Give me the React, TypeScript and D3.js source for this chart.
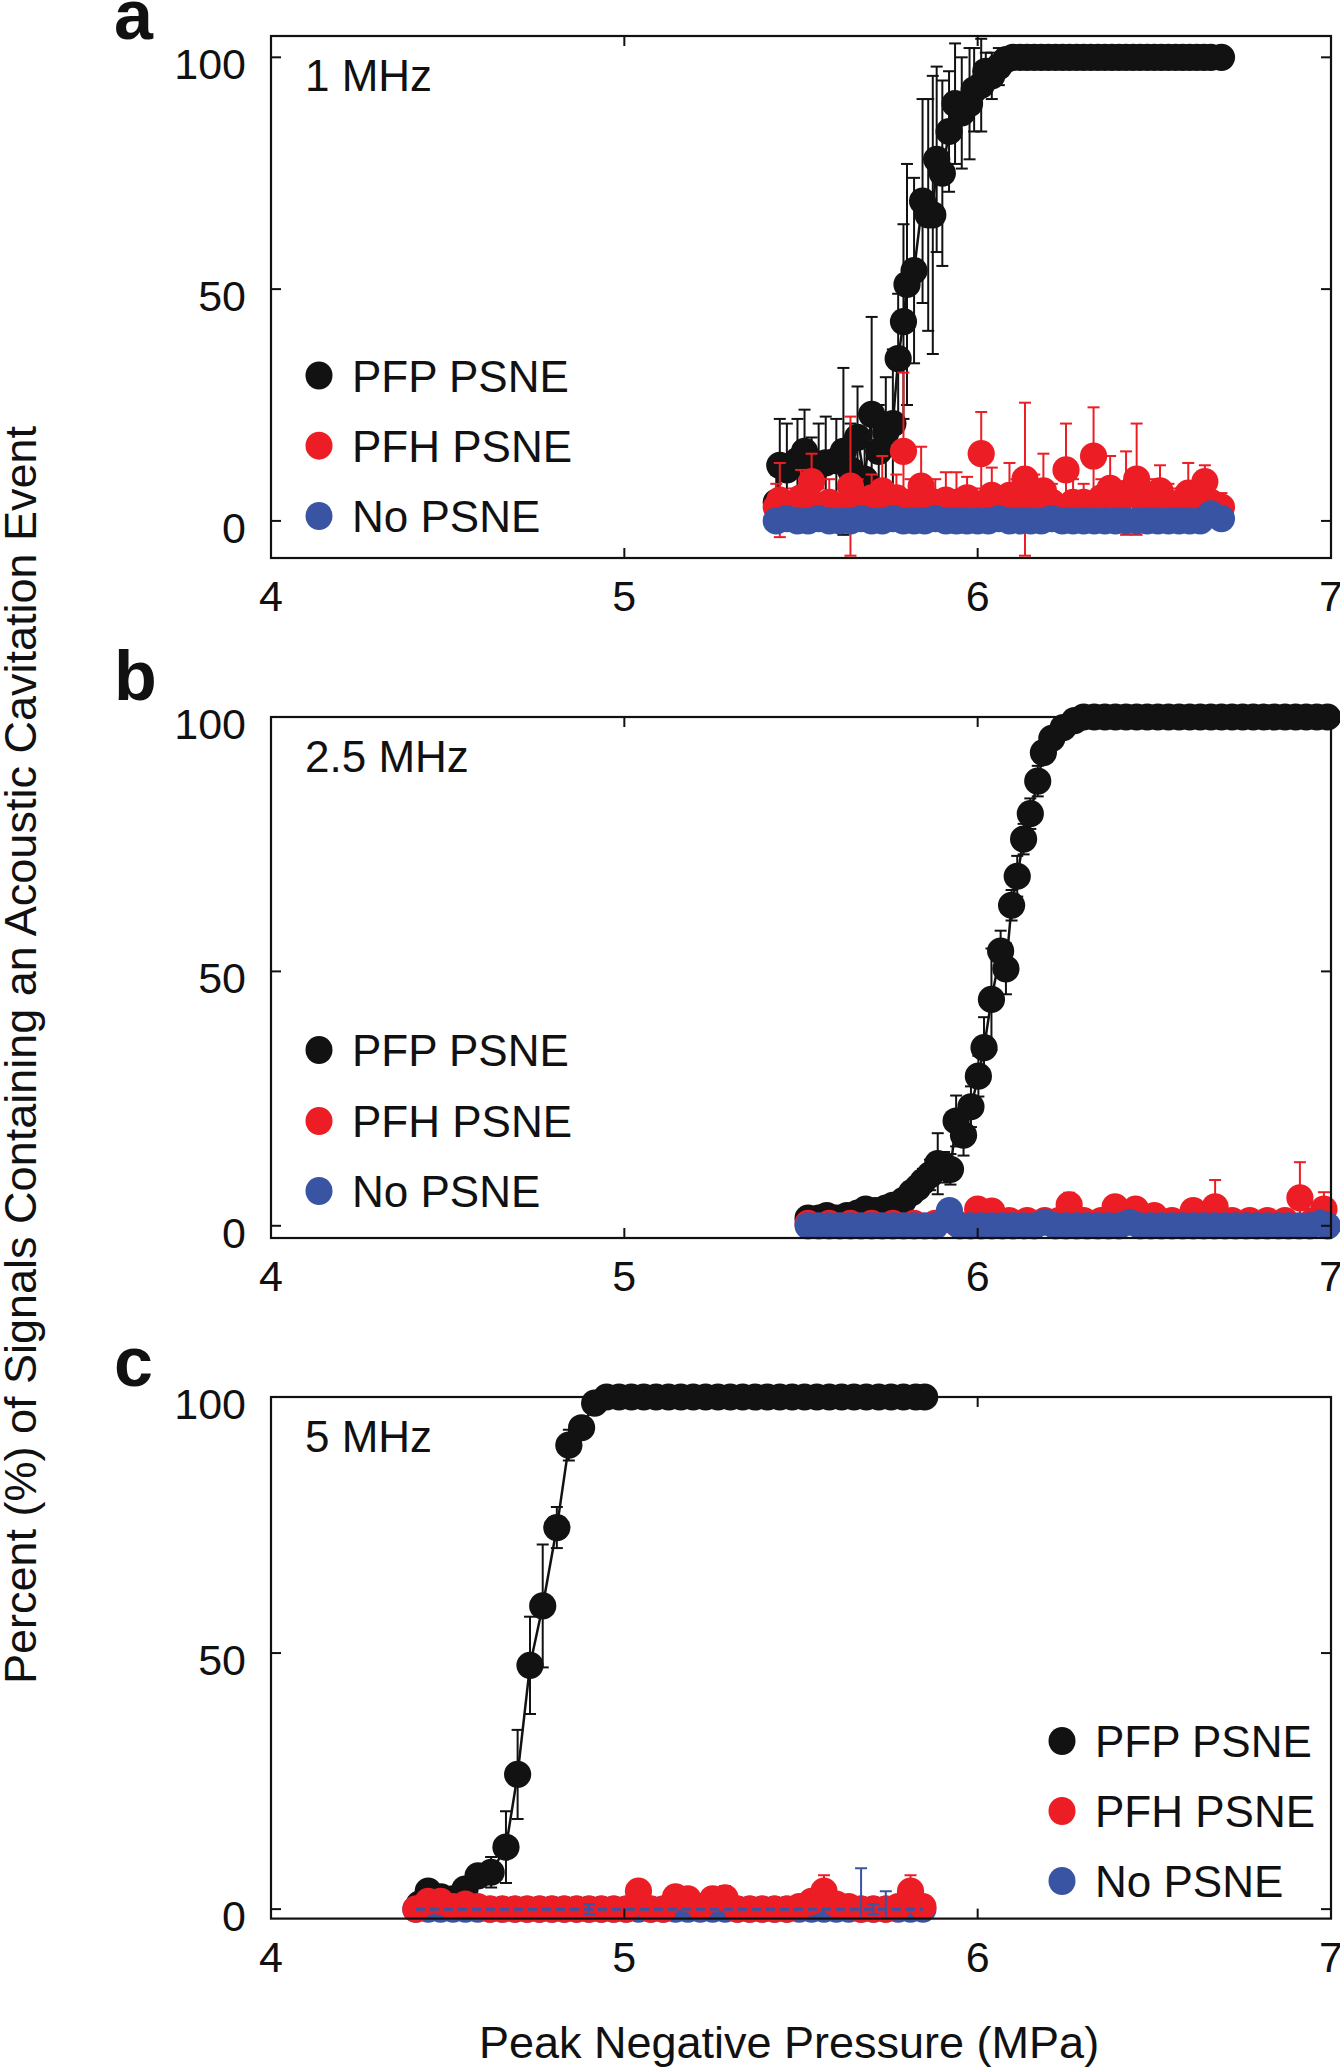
import React from 'react';
import * as d3 from 'd3';

// ---------------- data ----------------
const X_TICKS = [4, 5, 6, 7];
const Y_TICKS = [0, 50, 100];
const SERIES_NAMES = ['PFP PSNE', 'PFH PSNE', 'No PSNE'];
const PANEL_LETTERS = ['a', 'b', 'c'];
const FREQ_LABELS = ['1 MHz', '2.5 MHz', '5 MHz'];
const X_TITLE = 'Peak Negative Pressure (MPa)';
const Y_TITLE = 'Percent (%) of Signals Containing an Acoustic Cavitation Event';

// Panel a (1 MHz)
const A_PFP_X = [5.43, 5.44, 5.46, 5.49, 5.51, 5.53, 5.55, 5.57, 5.60, 5.62, 5.64, 5.66, 5.68, 5.70, 5.72, 5.74, 5.76, 5.775, 5.79, 5.80, 5.82, 5.844, 5.86, 5.873, 5.884, 5.90, 5.919, 5.936, 5.955, 5.977, 5.99, 6.01, 6.023, 6.04, 6.06, 6.08,
  6.10, 6.12, 6.14, 6.16, 6.18, 6.20, 6.22, 6.24, 6.26, 6.28, 6.30, 6.32, 6.34, 6.36, 6.38, 6.40, 6.42, 6.44, 6.46, 6.48, 6.50, 6.52, 6.54, 6.56, 6.58, 6.60, 6.62, 6.64, 6.66, 6.69];
const A_PFP_Y = [4, 12, 11, 13, 15, 10, 12, 12.5, 13, 15, 11, 18, 9, 23, 15, 19, 21, 35, 43, 51, 54, 69, 66, 66, 78, 75, 84, 90, 88, 90, 93, 94, 97, 96, 98, 99.5,
  100, 100, 100, 100, 100, 100, 100, 100, 100, 100, 100, 100, 100, 100, 100, 100, 100, 100, 100, 100, 100, 100, 100, 100, 100, 100, 100, 100, 100, 100];
const A_PFP_E = [6, 10, 10, 9, 9, 8, 9, 10, 9, 18, 10, 11, 7, 21, 10, 12, 16, 14, 21, 26, 20, 22, 25, 30, 20, 20, 13, 13, 12, 12, 9, 10, 4, 5, 4, 1,
  0, 0, 0, 0, 0, 0, 0, 0, 0, 0, 0, 0, 0, 0, 0, 0, 0, 0, 0, 0, 0, 0, 0, 0, 0, 0, 0, 0, 0, 0];

const A_PFH_X = [5.43, 5.44, 5.46, 5.48, 5.50, 5.53, 5.55, 5.58, 5.60, 5.62, 5.64, 5.66, 5.68, 5.70, 5.73, 5.75, 5.77, 5.79, 5.81, 5.84, 5.86, 5.88, 5.91, 5.94, 5.97, 5.99, 6.01, 6.04, 6.06, 6.09, 6.11, 6.134, 6.16, 6.186, 6.21, 6.25, 6.27, 6.30, 6.328, 6.35, 6.375, 6.40, 6.42, 6.45, 6.47, 6.50, 6.516, 6.54, 6.57, 6.596, 6.62, 6.643, 6.66, 6.69];
const A_PFH_Y = [3, 4.5, 2, 3, 5, 8.5, 3, 4, 2, 3, 7.5, 4, 2, 5, 6.5, 3, 5, 15, 4, 7.5, 3, 4, 4.5, 4, 5, 3, 14.5, 5.5, 3, 5.5, 4, 9, 5, 6.5, 4, 11, 4, 4, 14, 5, 7, 4, 6, 9, 4, 5, 6.5, 4, 3, 6, 4, 8.5, 4, 3];
const A_PFH_E = [5, 8, 3, 4, 6, 6, 4, 5, 3, 4, 15, 5, 3, 5, 7.5, 4, 5, 17, 5, 8.5, 4, 5, 6, 6.5, 4.5, 4, 9, 6, 3.5, 7, 5, 16.5, 5, 8, 4, 10, 5, 4, 10.5, 4, 7, 4, 9, 12, 4, 4, 5.5, 4, 4, 6.5, 4, 3.5, 5, 3];

const A_NO_X = [5.43, 5.46, 5.49, 5.52, 5.55, 5.58, 5.61, 5.64, 5.67, 5.70, 5.73, 5.76, 5.79, 5.82, 5.85, 5.88, 5.91, 5.94, 5.97, 6.00, 6.03, 6.06, 6.09, 6.12, 6.15, 6.18, 6.21, 6.24, 6.27, 6.30, 6.33, 6.36, 6.39, 6.42, 6.45, 6.48, 6.51, 6.54, 6.57, 6.60, 6.63, 6.66, 6.69];
const A_NO_Y = [0, 0.5, 0, 0, 0.5, 0, 0, 0, 0.5, 0, 0, 0.5, 0, 0, 0, 0.5, 0, 0, 0, 0, 0, 0.5, 0, 0, 0, 0, 0.5, 0, 0, 0, 0, 0, 0, 0, 0, 0, 0, 0, 0, 0, 0, 1.5, 0.5];
const A_NO_E = [0, 0, 0, 0, 0, 0, 0, 0, 0, 0, 0, 0, 0, 0, 0, 0, 0, 0, 0, 0, 0, 0, 0, 0, 0, 0, 0, 0, 0, 0, 0, 0, 0, 0, 0, 0, 0, 0, 0, 0, 0, 0, 0];

// Panel b (2.5 MHz)
const B_PFP_X = [5.52, 5.55, 5.573, 5.60, 5.63, 5.66, 5.683, 5.71, 5.74, 5.76, 5.79, 5.813, 5.83, 5.845, 5.865, 5.887, 5.905, 5.923, 5.939, 5.96, 5.981, 6.002, 6.018, 6.039, 6.065, 6.08, 6.096, 6.112, 6.13, 6.149, 6.17, 6.186, 6.21, 6.242, 6.274,
  6.30, 6.33, 6.36, 6.39, 6.42, 6.45, 6.48, 6.51, 6.54, 6.57, 6.60, 6.63, 6.66, 6.69, 6.72, 6.75, 6.78, 6.81, 6.84, 6.87, 6.90, 6.93, 6.96, 6.99];
const B_PFP_Y = [1.5, 1.5, 2, 1.5, 2, 2.5, 3.3, 3, 3.5, 4, 5, 6.5, 7.5, 8.7, 10, 12.2, 11.5, 11.1, 20.6, 17.8, 23.4, 29.4, 35, 44.5, 54, 50.5, 63, 68.7, 76, 81, 87.4, 93, 95.8, 97.9, 99.3,
  100, 100, 100, 100, 100, 100, 100, 100, 100, 100, 100, 100, 100, 100, 100, 100, 100, 100, 100, 100, 100, 100, 100, 100];
const B_PFP_E = [0.5, 0.5, 0.5, 0.5, 0.5, 1, 1, 1, 1, 1.5, 2, 2, 2, 2.5, 3, 6, 3, 3, 5, 4, 4, 4, 6, 10, 4, 5, 3, 4, 3, 3, 3, 2, 1.5, 1, 0.5,
  0, 0, 0, 0, 0, 0, 0, 0, 0, 0, 0, 0, 0, 0, 0, 0, 0, 0, 0, 0, 0, 0, 0, 0];

const B_PFH_X = [5.52, 5.58, 5.64, 5.70, 5.76, 5.82, 5.88, 5.94, 6.00, 6.04, 6.09, 6.14, 6.19, 6.23, 6.259, 6.30, 6.35, 6.389, 6.42, 6.447, 6.50, 6.55, 6.61, 6.672, 6.72, 6.77, 6.82, 6.87, 6.912, 6.95, 6.98];
const B_PFH_Y = [0.5, 0.5, 0.5, 0.5, 0.5, 0.5, 0.5, 0.5, 3.3, 2.9, 1, 1, 1, 1, 4.1, 1, 1, 3.7, 1, 3.3, 2, 1, 3, 3.7, 1, 1, 1, 1, 5.5, 1, 3.3];
const B_PFH_E = [0.5, 0.5, 0.5, 0.5, 0.5, 0.5, 0.5, 0.5, 1.2, 1, 0.5, 0.5, 0.5, 0.5, 2.4, 0.5, 0.5, 1.7, 0.5, 2, 1, 0.5, 1.5, 5.3, 0.5, 0.5, 0.5, 0.5, 7, 0.5, 3.3];

const B_NO_X = [5.52, 5.55, 5.58, 5.61, 5.64, 5.67, 5.70, 5.73, 5.76, 5.79, 5.82, 5.85, 5.88, 5.92, 5.95, 5.98, 6.01, 6.04, 6.07, 6.10, 6.13, 6.16, 6.19, 6.22, 6.25, 6.28, 6.31, 6.34, 6.37, 6.40, 6.43, 6.46, 6.49, 6.52, 6.55, 6.58, 6.61, 6.64, 6.67, 6.70, 6.73, 6.76, 6.79, 6.82, 6.85, 6.88, 6.91, 6.94, 6.97, 6.99];
const B_NO_Y = [0, 0, 0, 0, 0, 0, 0, 0, 0, 0, 0, 0, 0, 3, 0, 0, 0, 0, 0, 0, 0, 0, 0.7, 0, 0, 0, 0, 0, 0, 0, 0.7, 0, 0, 0, 0, 0, 0, 0, 0, 0, 0, 0, 0, 0, 0, 0, 0, 0, 0.5, 0];
const B_NO_E = [0, 0, 0, 0, 0, 0, 0, 0, 0, 0, 0, 0, 0, 1.4, 0, 0, 0, 0, 0, 0, 0, 0, 0, 0, 0, 0, 0, 0, 0, 0, 0, 0, 0, 0, 0, 0, 0, 0, 0, 0, 0, 0, 0, 0, 0, 0, 0, 0, 0, 0];

// Panel c (5 MHz)
const C_PFP_X = [4.42, 4.445, 4.481, 4.515, 4.549, 4.586, 4.623, 4.665, 4.698, 4.733, 4.769, 4.809, 4.843, 4.879, 4.916,
  4.95, 4.985, 5.02, 5.055, 5.09, 5.125, 5.16, 5.195, 5.23, 5.265, 5.30, 5.335, 5.37, 5.405, 5.44, 5.475, 5.51, 5.545, 5.58, 5.615, 5.65, 5.685, 5.72, 5.755, 5.79, 5.825, 5.85];
const C_PFP_Y = [1, 3.5, 2.4, 2, 3.9, 6.5, 7.2, 12.1, 26.3, 47.6, 59.2, 74.5, 90.6, 94, 98.8,
  100, 100, 100, 100, 100, 100, 100, 100, 100, 100, 100, 100, 100, 100, 100, 100, 100, 100, 100, 100, 100, 100, 100, 100, 100, 100, 100];
const C_PFP_E = [0.5, 1.5, 1, 1, 1, 2, 3, 7, 8.7, 9.5, 12, 4, 3, 2, 0.5,
  0, 0, 0, 0, 0, 0, 0, 0, 0, 0, 0, 0, 0, 0, 0, 0, 0, 0, 0, 0, 0, 0, 0, 0, 0, 0, 0];

const C_PFH_X = [4.41, 4.445, 4.48, 4.515, 4.55, 4.585, 4.62, 4.655, 4.69, 4.725, 4.76, 4.795, 4.83, 4.865, 4.90, 4.935, 4.97, 5.005, 5.04, 5.075, 5.11, 5.145, 5.18, 5.215, 5.25, 5.285, 5.32, 5.355, 5.39, 5.425, 5.46, 5.495, 5.53, 5.565, 5.60, 5.635, 5.67, 5.705, 5.74, 5.775, 5.81, 5.845];
const C_PFH_Y = [0, 1.5, 1.5, 0.5, 1, 0.5, 0, 0, 0, 0, 0, 0, 0, 0, 0, 0, 0, 0, 3.5, 0, 0, 2.4, 2, 0.5, 2, 2.2, 0, 0, 0, 0, 0, 0.5, 1.5, 3.5, 1, 0.5, 0, 0, 0, 0.5, 3.5, 0.5];
const C_PFH_E = [0, 0, 0, 0, 0, 0, 0, 0, 0, 0, 0, 0, 0, 0, 0, 0, 0, 0, 2.2, 0, 0, 0, 0, 0, 0, 2.3, 0, 0, 0, 0, 0, 0, 0, 3.1, 0, 0, 0, 0, 0, 0, 3.1, 0];

const C_NO_X = [4.41, 4.445, 4.48, 4.515, 4.55, 4.585, 4.62, 4.655, 4.69, 4.725, 4.76, 4.795, 4.83, 4.865, 4.90, 4.935, 4.97, 5.005, 5.04, 5.075, 5.11, 5.145, 5.18, 5.215, 5.25, 5.285, 5.32, 5.355, 5.39, 5.425, 5.46, 5.495, 5.53, 5.565, 5.60, 5.635, 5.67, 5.705, 5.74, 5.775, 5.81, 5.845];
const C_NO_Y = [0, 0, 0, 0, 0, 0, 0, 0, 0, 0, 0, 0, 0, 0, 0, 0, 0, 0, 0, 0, 0, 0, 0, 0, 0, 0, 0, 0, 0, 0, 0, 0, 0, 0, 0, 0, 0, 0, 0, 0, 0, 0];
const C_NO_E = [0, 0, 0, 0, 0, 0, 0, 0, 0, 0, 0, 0, 0, 0, 1, 0, 0, 0, 0, 0, 0, 0, 0, 0, 0, 0, 0, 0, 0, 0, 0, 0, 0, 0, 0, 0, 8, 1, 3.5, 0, 0, 0];

// ---------------- styling ----------------
const COLORS = ['#121212', '#EC1D25', '#3A54A4'];
const FONT = '"Liberation Sans", Arial, Helvetica, sans-serif';
const W = 1340;
const H = 2070;
const PLOT_L = 271;
const PLOT_R = 1331;
const R = 13.6;

type Series = { x: number[]; y: number[]; e: number[] };

type PanelCfg = {
  idx: number;
  top: number;
  bottom: number;
  yDom: [number, number];
  letterBase: number;
  legendX: number;
  legendY: number[];
  series: Series[];
  dashedBlue: boolean;
};

const PANELS: PanelCfg[] = [
  {
    idx: 0, top: 36, bottom: 558, yDom: [-8, 104.6], letterBase: 39,
    legendX: 319, legendY: [375.5, 445.7, 516],
    series: [
      { x: A_PFP_X, y: A_PFP_Y, e: A_PFP_E },
      { x: A_PFH_X, y: A_PFH_Y, e: A_PFH_E },
      { x: A_NO_X, y: A_NO_Y, e: A_NO_E },
    ],
    dashedBlue: false,
  },
  {
    idx: 1, top: 717, bottom: 1238, yDom: [-2.4, 100], letterBase: 700,
    legendX: 319, legendY: [1050, 1121, 1191],
    series: [
      { x: B_PFP_X, y: B_PFP_Y, e: B_PFP_E },
      { x: B_PFH_X, y: B_PFH_Y, e: B_PFH_E },
      { x: B_NO_X, y: B_NO_Y, e: B_NO_E },
    ],
    dashedBlue: false,
  },
  {
    idx: 2, top: 1397, bottom: 1918.6, yDom: [-1.85, 100], letterBase: 1386,
    legendX: 1062, legendY: [1741, 1811, 1881],
    series: [
      { x: C_PFP_X, y: C_PFP_Y, e: C_PFP_E },
      { x: C_PFH_X, y: C_PFH_Y, e: C_PFH_E },
      { x: C_NO_X, y: C_NO_Y, e: C_NO_E },
    ],
    dashedBlue: true,
  },
];

function ErrorBars({ s, x, y, color, clip }: { s: Series; x: any; y: any; color: string; clip: string }) {
  return (
    <g clipPath={`url(#${clip})`} stroke={color} strokeWidth={2}>
      {s.x.map((xv, i) => {
        const e = s.e[i];
        if (!e) return null;
        const cx = x(xv);
        const y1 = y(s.y[i] - e);
        const y2 = y(s.y[i] + e);
        return (
          <g key={i}>
            <line x1={cx} x2={cx} y1={y1} y2={y2} />
            <line x1={cx - 6} x2={cx + 6} y1={y1} y2={y1} />
            <line x1={cx - 6} x2={cx + 6} y1={y2} y2={y2} />
          </g>
        );
      })}
    </g>
  );
}

function Markers({ s, x, y, color }: { s: Series; x: any; y: any; color: string }) {
  return (
    <g fill={color}>
      {s.x.map((xv, i) => (
        <circle key={i} cx={x(xv)} cy={y(s.y[i])} r={R} />
      ))}
    </g>
  );
}

function Panel({ p, x }: { p: PanelCfg; x: any }) {
  const y = d3.scaleLinear().domain(p.yDom).range([p.bottom, p.top]);
  const clip = `clip-${PANEL_LETTERS[p.idx]}`;
  const [pfp, pfh, no] = p.series;
  const lineGen = d3.line<number>().x((d) => x(d)).y((_, i) => y(pfp.y[i]));
  const blueLine = d3.line<number>().x((d) => x(d)).y((_, i) => y(no.y[i]));
  return (
    <g>
      <defs>
        <clipPath id={clip}>
          <rect x={PLOT_L} y={p.top} width={PLOT_R - PLOT_L} height={p.bottom - p.top} />
        </clipPath>
      </defs>
      {/* PFP */}
      <ErrorBars s={pfp} x={x} y={y} color={COLORS[0]} clip={clip} />
      <path d={lineGen(pfp.x) || ''} fill="none" stroke={COLORS[0]} strokeWidth={2.5} clipPath={`url(#${clip})`} />
      <Markers s={pfp} x={x} y={y} color={COLORS[0]} />
      {p.dashedBlue ? (
        <>
          <Markers s={no} x={x} y={y} color={COLORS[2]} />
          <ErrorBars s={pfh} x={x} y={y} color={COLORS[1]} clip={clip} />
          <Markers s={pfh} x={x} y={y} color={COLORS[1]} />
          <path d={blueLine(no.x) || ''} fill="none" stroke={COLORS[2]} strokeWidth={3} strokeDasharray="9,5" />
          <ErrorBars s={no} x={x} y={y} color={COLORS[2]} clip={clip} />
        </>
      ) : (
        <>
          <ErrorBars s={pfh} x={x} y={y} color={COLORS[1]} clip={clip} />
          <Markers s={pfh} x={x} y={y} color={COLORS[1]} />
          <ErrorBars s={no} x={x} y={y} color={COLORS[2]} clip={clip} />
          <Markers s={no} x={x} y={y} color={COLORS[2]} />
        </>
      )}
      {/* frame */}
      <rect x={PLOT_L} y={p.top} width={PLOT_R - PLOT_L} height={p.bottom - p.top} fill="none" stroke="#111" strokeWidth={2.2} />
      {X_TICKS.map((t) => (
        <g key={`xt${t}`} stroke="#111" strokeWidth={2}>
          <line x1={x(t)} x2={x(t)} y1={p.bottom} y2={p.bottom - 10} />
          <line x1={x(t)} x2={x(t)} y1={p.top} y2={p.top + 10} />
        </g>
      ))}
      {Y_TICKS.map((t) => (
        <g key={`yt${t}`} stroke="#111" strokeWidth={2}>
          <line x1={PLOT_L} x2={PLOT_L + 10} y1={y(t)} y2={y(t)} />
          <line x1={PLOT_R} x2={PLOT_R - 10} y1={y(t)} y2={y(t)} />
        </g>
      ))}
      {X_TICKS.map((t) => (
        <text key={`xl${t}`} x={x(t)} y={p.bottom + 53} fontSize={43} textAnchor="middle" fill="#111">
          {t}
        </text>
      ))}
      {Y_TICKS.map((t) => (
        <text key={`yl${t}`} x={246} y={y(t) + 22} fontSize={43} textAnchor="end" fill="#111">
          {t}
        </text>
      ))}
      {/* frequency label */}
      <text x={305} y={p.top + 55} fontSize={44} fill="#111">
        {FREQ_LABELS[p.idx]}
      </text>
      {/* panel letter */}
      <text x={114} y={p.letterBase} fontSize={70} fontWeight="bold" fill="#111">
        {PANEL_LETTERS[p.idx]}
      </text>
      {/* legend */}
      {SERIES_NAMES.map((name, i) => (
        <g key={name}>
          <ellipse cx={p.legendX} cy={p.legendY[i]} rx={13.5} ry={14} fill={COLORS[i]} />
          <text x={p.legendX + 33} y={p.legendY[i] + 16} fontSize={44} fill="#111">
            {name}
          </text>
        </g>
      ))}
    </g>
  );
}

export default function App() {
  const x = d3.scaleLinear().domain([4, 7]).range([PLOT_L, PLOT_R]);
  return (
    <svg
      width={W}
      height={H}
      viewBox={`0 0 ${W} ${H}`}
      style={{ position: 'absolute', left: 0, top: 0, background: '#fff' }}
      fontFamily={FONT}
    >
      <rect width={W} height={H} fill="#fff" />
      {PANELS.map((p) => (
        <Panel key={p.idx} p={p} x={x} />
      ))}
      <text x={789} y={2058} fontSize={45} textAnchor="middle" fill="#111">
        {X_TITLE}
      </text>
      <text transform="translate(36,1055) rotate(-90)" fontSize={45} textAnchor="middle" fill="#111">
        {Y_TITLE}
      </text>
    </svg>
  );
}
